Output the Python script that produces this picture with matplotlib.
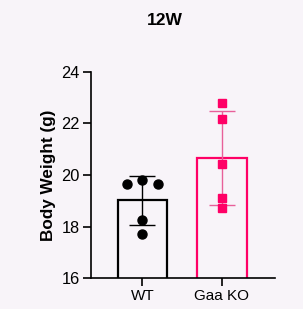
import matplotlib.pyplot as plt
import numpy as np

plt.rcParams['font.family'] = ['Liberation Sans', 'DejaVu Sans']

groups = ["WT", "Gaa KO"]
wt_values = [19.65, 19.8, 19.65, 18.26, 17.7]
ko_values = [22.81, 22.19, 20.43, 19.09, 18.71]
wt_jitter = [-0.2, 0.0, 0.2, 0.0, 0.0]
ko_jitter = [0.0, 0.0, 0.0, 0.0, 0.0]

bg = "#f8f4f9"
pink = "#ff0066"

fig = plt.figure(figsize=(3.03, 3.09), dpi=100, facecolor=bg)
ax = fig.add_axes([0.3003, 0.1003, 0.6073, 0.6667], facecolor=bg)

data = [wt_values, ko_values]
jit = [wt_jitter, ko_jitter]
colors = ["black", pink]
markers = ["o", "s"]
x = np.arange(len(groups))

for i, vals in enumerate(data):
    m = np.mean(vals)
    sd = np.std(vals, ddof=1)
    ax.bar(x[i], m, width=0.62, bottom=0, color="none",
           edgecolor=colors[i], linewidth=1.6, zorder=2)
    ecol = "black" if i == 0 else "#e8609a"
    ax.errorbar(x[i], m, yerr=sd, color=ecol, elinewidth=1.0,
                capsize=9.5, capthick=1.0, zorder=3)
    ax.plot(x[i] + np.array(jit[i]), vals, linestyle="none",
            marker=markers[i], color=colors[i],
            markersize=6.5 if i == 0 else 6.2, zorder=4)

ax.set_ylim(16, 24)
ax.set_xlim(-0.648, 1.667)
ax.set_yticks([16, 18, 20, 22, 24])
ax.set_xticks(x)
ax.set_xticklabels(groups)
ax.spines["top"].set_visible(False)
ax.spines["right"].set_visible(False)
for s in ["left", "bottom"]:
    ax.spines[s].set_linewidth(1.2)
ax.tick_params(axis="both", width=1.2, length=6, labelsize=11, pad=2)
ax.tick_params(axis="y", labelsize=11.8)
ax.set_ylabel("Body Weight (g)", fontsize=12.3, fontweight="bold", labelpad=4)

fig.text(0.545, 0.933, "12W", ha="center", va="center",
         fontsize=12.5, fontweight="bold")

fig.savefig("out.png", dpi=100, facecolor=bg)
